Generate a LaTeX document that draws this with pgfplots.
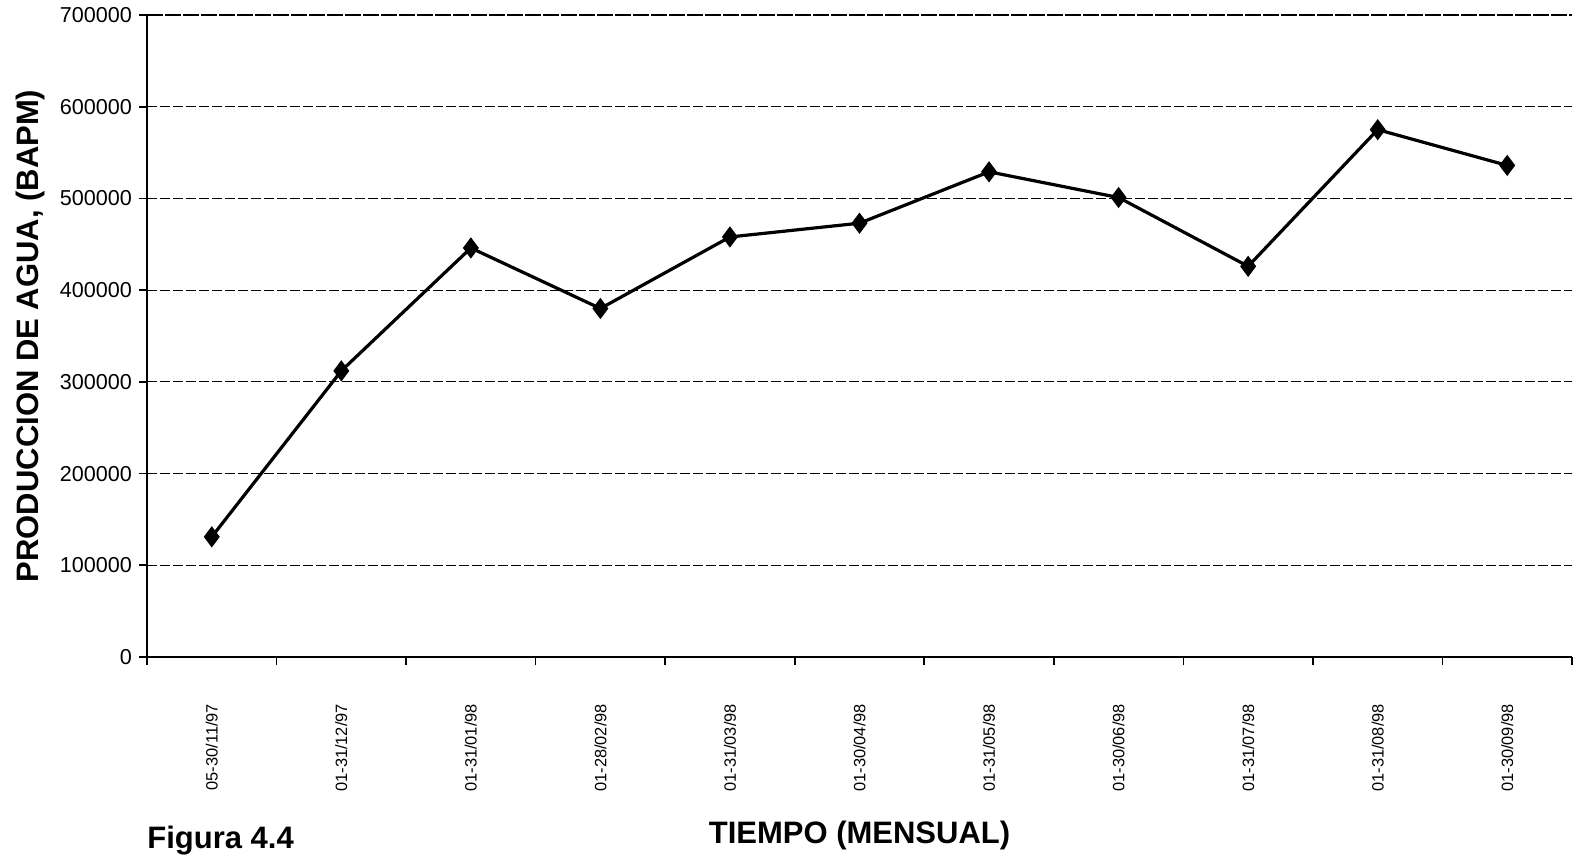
\documentclass[border=0pt]{standalone}
\usepackage{pgfplots}
\pgfplotsset{compat=1.18}
\usepackage{fontspec}
\setmainfont{Liberation Sans}
\begin{document}
\begin{tikzpicture}
\useasboundingbox (-73.5pt,-102.5pt) rectangle (713pt,328.5pt);
\begin{axis}[
  at={(0,0)}, anchor=south west,
  width=712.5pt, height=321pt, scale only axis,
  xmin=-0.5, xmax=10.5,
  ymin=0, ymax=700000,
  axis lines*=left,
  axis line style={-, line width=1.2pt},
  xtick={0,...,10},
  xticklabels={05-30/11/97,01-31/12/97,01-31/01/98,01-28/02/98,01-31/03/98,01-30/04/98,01-31/05/98,01-30/06/98,01-31/07/98,01-31/08/98,01-30/09/98},
  x tick label style={rotate=90, anchor=east, font=\fontsize{8.2}{10}\selectfont},
  major x tick style={draw=none},
  minor xtick={-0.5,0.5,...,10.5},
  minor tick length=4pt,
  ytick={0,100000,...,600000},
  extra y ticks={700000},
  extra y tick style={grid style={black, line width=1.1pt, dash pattern=on 8pt off 1pt}},
  y tick label style={font=\fontsize{10.8}{12}\selectfont},
  scaled y ticks=false,
  yticklabel style={/pgf/number format/.cd, fixed, 1000 sep={}, assume math mode=true},
  xticklabel style={/pgf/number format/assume math mode=true},
  tick align=outside,
  major tick length=4pt,
  tick style={black, line width=0.8pt},
  ymajorgrids,
  grid style={black, dash pattern=on 5pt off 1.5pt, line width=0.6pt},
  xlabel={\bfseries TIEMPO (MENSUAL)},
  ylabel={\bfseries PRODUCCION DE AGUA, (BAPM)},
  xlabel style={font=\fontsize{15.5}{17}\selectfont, at={(axis description cs:0.5,0)}, anchor=base, yshift=-93pt},
  ylabel style={font=\fontsize{15.5}{17}\selectfont, at={(axis description cs:0,0.5)}, anchor=center, yshift=58.5pt},
  xticklabel shift=16pt,
  clip=false,
]
\addplot[black, line width=1.6pt, mark=diamond*, mark size=4pt, mark options={solid, fill=black}]
  coordinates {
  (0,131000) (1,312000) (2,446000) (3,380000) (4,458000) (5,473000)
  (6,529000) (7,501000) (8,426000) (9,575000) (10,536000)
  };
\end{axis}
\node[anchor=base west, inner sep=0pt, font=\fontsize{15.5}{17}\selectfont\bfseries] at (0pt,-95.5pt) {Figura 4.4};
\end{tikzpicture}
\end{document}
